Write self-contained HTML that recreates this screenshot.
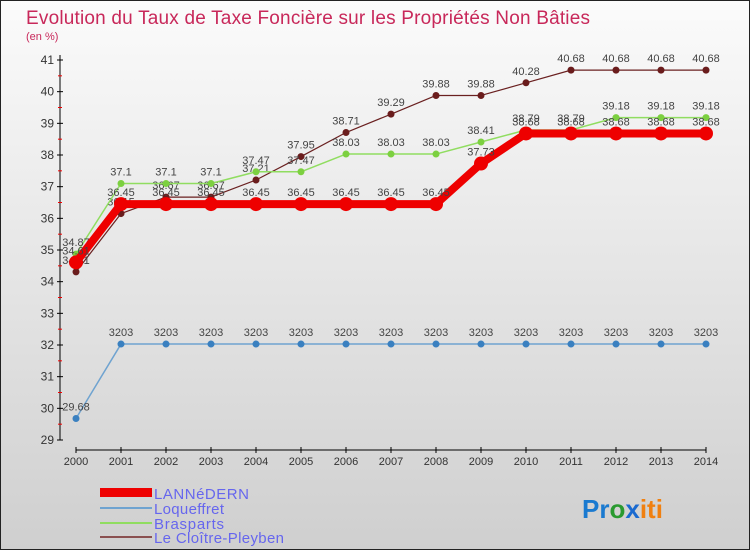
<!DOCTYPE html>
<html><head><meta charset="utf-8"><style>
body{margin:0;width:750px;height:550px;overflow:hidden;font-family:"Liberation Sans",sans-serif}
svg{display:block}
</style></head><body>
<svg id="c" width="750" height="550" xmlns="http://www.w3.org/2000/svg">
<defs><linearGradient id="bg" x1="0" y1="0" x2="0" y2="1"><stop offset="0" stop-color="#fbfbfb"/><stop offset="1" stop-color="#cfcfcf"/></linearGradient></defs>
<rect x="0.5" y="0.5" width="749" height="549" fill="url(#bg)" stroke="#222"/>
<text x="26" y="24" font-size="19" fill="#c8285a" textLength="564">Evolution du Taux de Taxe Foncière sur les Propriétés Non Bâties</text>
<text x="26" y="40" font-size="11" fill="#c8285a">(en %)</text>
<g id="axes"></g><g id="series"></g>
<g>
<rect x="100" y="488" width="52" height="9" fill="#e00"/>
<text x="154" y="499" font-size="15" fill="#6666ee" textLength="95">LANNéDERN</text>
<line x1="100" y1="508" x2="152" y2="508" stroke="#6fa3d0" stroke-width="2"/>
<text x="154" y="514" font-size="15" fill="#6666ee" textLength="70">Loqueffret</text>
<line x1="100" y1="523" x2="152" y2="523" stroke="#90dd60" stroke-width="2"/>
<text x="154" y="529" font-size="15" fill="#6666ee" textLength="70">Brasparts</text>
<line x1="100" y1="537" x2="152" y2="537" stroke="#8a5050" stroke-width="2"/>
<text x="154" y="543" font-size="15" fill="#6666ee" textLength="130">Le Cloître-Pleyben</text>
</g>
<text x="582" y="518" font-size="26" font-weight="bold"><tspan fill="#1a7ad0">Pr</tspan><tspan fill="#2a9a30">o</tspan><tspan fill="#1a6ad0">x</tspan><tspan fill="#f08010">iti</tspan></text>
</svg>
<script>
const years=[2000,2001,2002,2003,2004,2005,2006,2007,2008,2009,2010,2011,2012,2013,2014];
const yTicks=[29,30,31,32,33,34,35,36,37,38,39,40,41];
const lannedern=[34.61,36.45,36.45,36.45,36.45,36.45,36.45,36.45,36.45,37.73,38.68,38.68,38.68,38.68,38.68];
const loqueffret=[29.68,32.03,32.03,32.03,32.03,32.03,32.03,32.03,32.03,32.03,32.03,32.03,32.03,32.03,32.03];
const brasparts=[34.87,37.1,37.1,37.1,37.47,37.47,38.03,38.03,38.03,38.41,38.79,38.79,39.18,39.18,39.18];
const cloitre=[34.31,36.15,36.67,36.67,37.21,37.95,38.71,39.29,39.88,39.88,40.28,40.68,40.68,40.68,40.68];
const NS="http://www.w3.org/2000/svg";
const X=i=>76+i*(630/(years.length-1));
const Y=v=>440-(v-29)*(380/12);
function mk(tag,attrs,parent){const e=document.createElementNS(NS,tag);for(const k in attrs)e.setAttribute(k,attrs[k]);parent.appendChild(e);return e;}
const ax=document.getElementById('axes');
let yl=mk('line',{x1:60,y1:55,x2:60,y2:440,stroke:'#000'},ax);


yTicks.forEach(t=>{
 mk('line',{x1:57,y1:Y(t),x2:63,y2:Y(t),stroke:'#000'},ax);
 if(t<41) mk('line',{x1:58,y1:Y(t+0.5),x2:62,y2:Y(t+0.5),stroke:'#e00'},ax);
 const tx=mk('text',{x:54,y:Y(t)+4,'font-size':12,fill:'#333','text-anchor':'end'},ax);tx.textContent=t;
 
 
});
let xl=mk('line',{x1:76,y1:450,x2:706,y2:450,stroke:'#000'},ax);


years.forEach((y,i)=>{
 mk('line',{x1:X(i),y1:447,x2:X(i),y2:453,stroke:'#000'},ax);
 const tx=mk('text',{x:X(i),y:465,'font-size':11,fill:'#333','text-anchor':'middle'},ax);tx.textContent=y;
 
 
});
const sg=document.getElementById('series');
function fmt(v){return (Math.round(v*100)/100).toString();}
function series(vals,name,color,w,r,dot,lab){
 const g=mk('g',{},sg);
 
 
 const p=mk('polyline',{points:vals.map((v,i)=>X(i)+','+Y(v)).join(' '),fill:'none',stroke:color,'stroke-width':w,'stroke-linejoin':'round'},g);
 
 
 vals.forEach((v,i)=>{
  const c=mk('circle',{cx:X(i),cy:Y(v),r:r,fill:dot},g);
  
  
  const t=mk('text',{x:X(i),y:Y(v)-8,'font-size':11,fill:'#444','text-anchor':'middle'},g);
  t.textContent=lab?lab(v):fmt(v);
  
  
 });
}
series(loqueffret,'loqueffret','#6fa3d0',1.5,3.5,'#3a80c0',v=>v>30?String(Math.round(v*100)):fmt(v));
series(cloitre,'cloitre','#6a2020',1.2,3.5,'#6a1c1c');
series(brasparts,'brasparts','#90dd60',1.5,3.5,'#7cd040');
series(lannedern,'lannedern','#ee0000',8,7,'#ee0000');
</script>
</body></html>
